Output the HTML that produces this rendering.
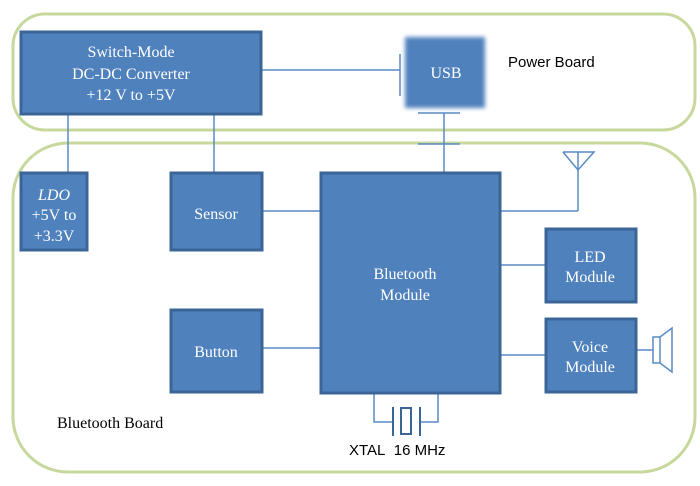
<!DOCTYPE html>
<html><head><meta charset="utf-8"><style>
html,body{margin:0;padding:0;background:#fff;width:700px;height:486px;overflow:hidden}
svg{display:block}
.box{fill:#4f81bd;stroke:#3b6597;stroke-width:3}
.ln{stroke:#5a8ac6;stroke-width:1.5;fill:none}
.wt{fill:#fff;font-family:"Liberation Serif",serif;font-size:16px;text-anchor:middle}
.bk{fill:#000;font-family:"Liberation Sans",sans-serif;font-size:15px}
</style></head><body>
<svg width="700" height="486" viewBox="0 0 700 486" xmlns="http://www.w3.org/2000/svg">
<defs><filter id="blur" x="-20%" y="-20%" width="140%" height="140%"><feGaussianBlur stdDeviation="2"/></filter></defs>
<rect x="13" y="14" width="682" height="116" rx="32" fill="none" stroke="#c6d89c" stroke-width="3"/>
<rect x="13" y="143" width="682" height="329" rx="55" fill="none" stroke="#c6d89c" stroke-width="3"/>
<line class="ln" x1="261" y1="70" x2="400" y2="70"/>
<line class="ln" x1="400" y1="54" x2="400" y2="96"/>
<line class="ln" x1="418" y1="113" x2="460" y2="113"/>
<line class="ln" x1="418" y1="144" x2="460" y2="144"/>
<line class="ln" x1="444" y1="113" x2="444" y2="172"/>
<line class="ln" x1="68" y1="114" x2="68" y2="172"/>
<line class="ln" x1="214" y1="114" x2="214" y2="172"/>
<line class="ln" x1="262" y1="211" x2="320" y2="211"/>
<line class="ln" x1="500" y1="211" x2="578" y2="211"/>
<line class="ln" x1="578" y1="152" x2="578" y2="211"/>
<polyline class="ln" points="563,152 594,152 578,170 563,152"/>
<line class="ln" x1="500" y1="265" x2="545" y2="265"/>
<line class="ln" x1="500" y1="355" x2="545" y2="355"/>
<line class="ln" x1="262" y1="348" x2="320" y2="348"/>
<line class="ln" x1="636" y1="350" x2="653" y2="350"/>
<rect class="ln" x="653" y="337" width="7" height="26"/>
<polyline class="ln" points="660,337 672,328 672,372 660,363"/>
<polyline class="ln" points="374,393 374,422 392,422"/>
<polyline class="ln" points="438,393 438,422 420,422"/>
<line x1="393" y1="407" x2="393" y2="436" stroke="#3b6597" stroke-width="2"/>
<line x1="420" y1="407" x2="420" y2="436" stroke="#3b6597" stroke-width="2"/>
<rect x="401" y="408" width="10" height="26" fill="none" stroke="#3b6597" stroke-width="2"/>
<rect class="box" x="21" y="32" width="240" height="82"/>
<rect x="405" y="37" width="80" height="71" fill="#4f81bd" filter="url(#blur)"/>
<rect class="box" x="21" y="173" width="66" height="77"/>
<rect class="box" x="171" y="173" width="91" height="77"/>
<rect class="box" x="171" y="310" width="91" height="82"/>
<rect class="box" x="321" y="173" width="179" height="220"/>
<rect class="box" x="546" y="229" width="90" height="73"/>
<rect class="box" x="546" y="319" width="90" height="73"/>
<text class="wt" x="131" y="57">Switch-Mode</text>
<text class="wt" x="131" y="79">DC-DC Converter</text>
<text class="wt" x="131" y="100">+12 V to +5V</text>
<text class="wt" x="446" y="78">USB</text>
<text class="bk" x="508" y="67">Power Board</text>
<text class="wt" x="54" y="200" font-style="italic">LDO</text>
<text class="wt" x="54" y="220">+5V to</text>
<text class="wt" x="54" y="241">+3.3V</text>
<text class="wt" x="216" y="219">Sensor</text>
<text class="wt" x="216" y="357">Button</text>
<text class="wt" x="405" y="279">Bluetooth</text>
<text class="wt" x="405" y="300">Module</text>
<text class="wt" x="590" y="262">LED</text>
<text class="wt" x="590" y="282">Module</text>
<text class="wt" x="590" y="352">Voice</text>
<text class="wt" x="590" y="372">Module</text>
<text x="57" y="428" font-family="Liberation Serif,serif" font-size="16" fill="#000">Bluetooth Board</text>
<text class="bk" x="349" y="455" font-size="14">XTAL&#160; 16 MHz</text>
</svg>
</body></html>
